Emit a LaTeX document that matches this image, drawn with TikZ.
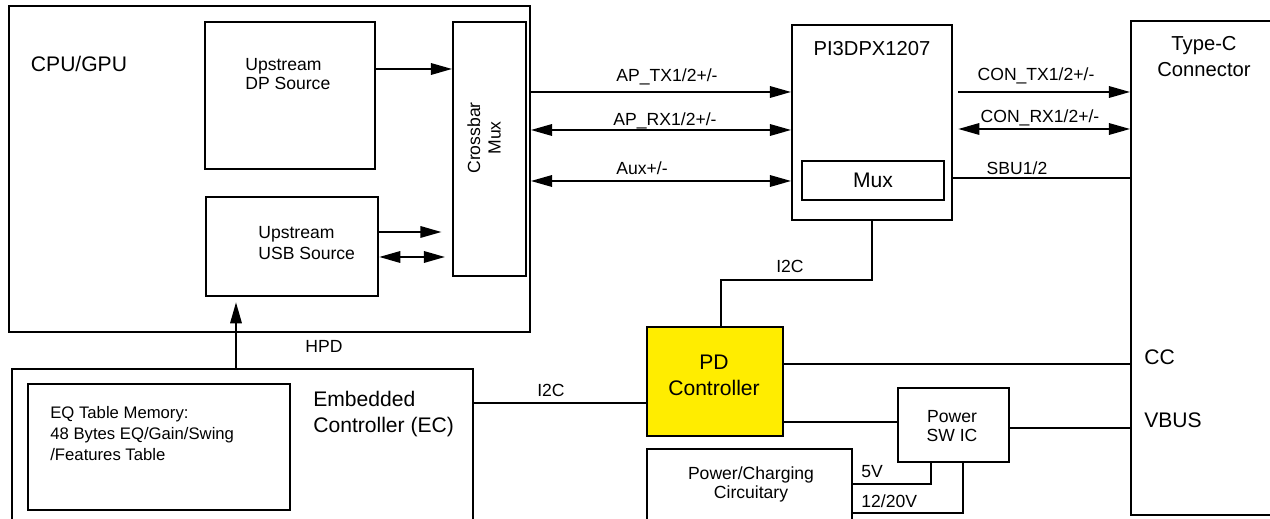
\documentclass[tikz,border=0pt]{standalone}
\usepackage{fontspec}
\setmainfont{Liberation Sans}
\usetikzlibrary{arrows.meta}
\definecolor{pdyellow}{RGB}{255,237,0}
\tikzset{
  blk/.style={draw, line width=1.1pt, inner sep=0pt},
  wire/.style={line width=1.1pt},
  arr/.style={line width=1.1pt, -{Triangle[length=12pt,width=6.5pt]}},
  barr/.style={line width=1.1pt, {Triangle[length=12pt,width=6.5pt]}-{Triangle[length=12pt,width=6.5pt]}},
  lbl/.style={inner sep=0pt, anchor=base, font=\fontsize{10}{12}\selectfont},
  big/.style={inner sep=0pt, font=\fontsize{12}{15}\selectfont},
}
\begin{document}
\begin{tikzpicture}[x=0.02cm, y=-0.02cm]
    \clip (0,0) rectangle (1270,519);

    %(cpu side)
    \node[blk, minimum width=10.42cm, minimum height=6.52cm] (cpu) at (269.5,169) {};
    \node[big, anchor=base] (cpulbl) at (79,72) {CPU/GPU};
    \node[blk, minimum width=3.39cm, minimum height=2.95cm] (dp) at (290,95.5) {};
    \node[inner sep=0pt, anchor=west, align=left, font=\fontsize{10}{11.3}\selectfont] (dplbl) at (245,74) {Upstream\\DP Source};
    \node[blk, minimum width=3.45cm, minimum height=1.98cm] (usb) at (292,246.5) {};
    \node[inner sep=0pt, anchor=west, align=left, font=\fontsize{10}{11.9}\selectfont] (usblbl) at (258,243) {Upstream\\USB Source};
    \node[blk, minimum width=1.46cm, minimum height=5.08cm] (xbar) at (489.5,149) {};
    \node[inner sep=0pt, rotate=90, align=center, font=\fontsize{10}{11.7}\selectfont] (xbarlbl) at (484,138) {Crossbar\\Mux};
    \draw[arr] (dp.east |- 0,69) -- (xbar.west |- 0,69);
    \draw[arr, shorten >=6pt] (usb.east |- 0,232) -- (xbar.west |- 0,232);
    \draw[barr, shorten >=4pt] (usb.east |- 0,257) -- (xbar.west |- 0,257);

    %(redriver)
    \node[blk, minimum width=3.2cm, minimum height=3.9cm] (pi) at (872,122.5) {};
    \node[inner sep=0pt, anchor=base, font=\fontsize{11.5}{14}\selectfont] (pilbl) at (872,56) {PI3DPX1207};
    \node[blk, minimum width=2.84cm, minimum height=0.78cm] (mux) at (873,180.5) {};
    \node[big, anchor=base] (muxlbl) at (873,188) {Mux};
    \draw[arr] (cpu.east |- 0,92) -- (pi.west |- 0,92);
    \draw[barr] (cpu.east |- 0,130) -- (pi.west |- 0,130);
    \draw[barr] (cpu.east |- 0,181) -- (pi.west |- 0,181);
    \node[lbl] (aptx) at (667,82) {AP\_TX1/2+/-};
    \node[lbl] (aprx) at (665,126) {AP\_RX1/2+/-};
    \node[lbl] (aux) at (642,175) {Aux+/-};

    %(connector)
    \node[blk, minimum width=3.38cm, minimum height=9.88cm] (typec) at (1215.5,268) {};
    \node[inner sep=0pt, align=center, font=\fontsize{11.5}{15.3}\selectfont] (typeclbl) at (1204,56.5) {Type-C\\Connector};
    \draw[arr, shorten <=3pt] (pi.east |- 0,92) -- (typec.west |- 0,92);
    \draw[barr, shorten <=3pt] (pi.east |- 0,129) -- (typec.west |- 0,129);
    \draw[wire] (pi.east |- 0,178) -- (typec.west |- 0,178);
    \node[lbl] (contx) at (1036,81) {CON\_TX1/2+/-};
    \node[lbl] (conrx) at (1040,123) {CON\_RX1/2+/-};
    \node[lbl] (sbu) at (1017,175) {SBU1/2};
    \node[big, anchor=base west] (cc) at (1144,365) {CC};
    \node[big, anchor=base west] (vbus) at (1144,428) {VBUS};

    %(power delivery)
    \node[blk, fill=pdyellow, minimum width=2.72cm, minimum height=2.18cm] (pd) at (715,381.5) {};
    \node[inner sep=0pt, align=center, font=\fontsize{12}{14.7}\selectfont] (pdlbl) at (714,375) {PD\\Controller};
    \node[blk, minimum width=2.22cm, minimum height=1.48cm] (psw) at (953.5,425) {};
    \node[inner sep=0pt, align=center, font=\fontsize{10}{10.8}\selectfont] (pswlbl) at (952,426) {Power\\SW IC};
    \node[blk, minimum width=4.1cm, minimum height=1.82cm] (pcc) at (749.5,494.5) {};
    \node[inner sep=0pt, align=center, font=\fontsize{10}{10.8}\selectfont] (pcclbl) at (751,484) {Power/Charging\\Circuitary};
    \coordinate (i2cbend) at (721,280);
    \draw[wire] (pi.south) |- (i2cbend) -- (pd.north -| i2cbend);
    \node[lbl] (i2ctop) at (790,273) {I2C};
    \draw[wire] (pd.east |- 0,364) -- (typec.west |- 0,364);
    \draw[wire] (pd.east |- 0,422) -- (psw.west |- 0,422);
    \draw[wire] (psw.east |- 0,428) -- (typec.west |- 0,428);
    \draw[wire] (pcc.east |- 0,484) -| (psw.south -| 931,0);
    \draw[wire] (pcc.east |- 0,513) -| (psw.south -| 963,0);
    \node[lbl, anchor=base west] (v5) at (861,478) {5V};
    \node[lbl, anchor=base west] (v12) at (861,508) {12/20V};

    %(embedded controller)
    \node[blk, minimum width=9.22cm, minimum height=3.42cm] (ec) at (242.5,454.5) {};
    \node[inner sep=0pt, anchor=west, align=left, font=\fontsize{12}{15.3}\selectfont] (eclbl) at (313,414) {Embedded\\Controller (EC)};
    \node[blk, minimum width=5.24cm, minimum height=2.52cm] (eq) at (159,447) {};
    \node[inner sep=0pt, anchor=west, align=left, font=\fontsize{9.5}{11.9}\selectfont] (eqlbl) at (50,433.5) {EQ Table Memory:\\48 Bytes EQ/Gain/Swing\\/Features Table};
    \draw[arr, shorten >=3pt] (ec.north -| 236,0) -- (usb.south -| 236,0);
    \node[lbl] (hpd) at (324,353) {HPD};
    \draw[wire] (ec.east |- 0,403) -- (pd.west |- 0,403);
    \node[lbl] (i2cbot) at (551,397) {I2C};
\end{tikzpicture}
\end{document}
